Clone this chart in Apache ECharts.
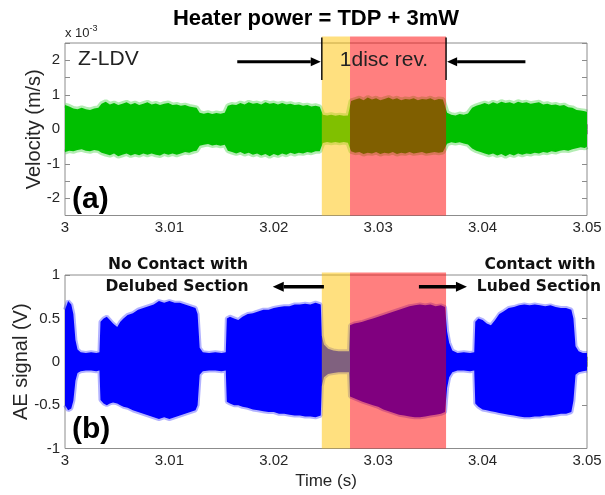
<!DOCTYPE html>
<html><head><meta charset="utf-8">
<script src="https://cdn.jsdelivr.net/npm/echarts@6/dist/echarts.min.js"></script>
<style>html,body{margin:0;padding:0;background:#fff}#c{width:605px;height:495px}</style>
</head><body><div id="c"></div>
<script>
// ---------- DATA ----------
const xTickLabels = ['3', '3.01', '3.02', '3.03', '3.04', '3.05'];
const velTickLabels = ['-2', '-1', '0', '1', '2'];
const aeTickLabels = ['-1', '-0.5', '0', '0.5', '1'];

// Velocity envelope (x 1e-3 m/s)
const velTime = [3.0000,3.0004,3.0008,3.0012,3.0016,3.0020,3.0024,3.0028,3.0032,3.0035,3.0039,3.0043,3.0047,3.0051,3.0055,3.0059,3.0063,3.0067,3.0071,3.0075,3.0079,3.0083,3.0087,3.0091,3.0095,3.0099,3.0103,3.0107,3.0111,3.0115,3.0119,3.0123,3.0126,3.0129,3.0133,3.0137,3.0141,3.0145,3.0149,3.0153,3.0156,3.0160,3.0164,3.0168,3.0172,3.0176,3.0180,3.0184,3.0188,3.0192,3.0196,3.0200,3.0204,3.0208,3.0212,3.0216,3.0220,3.0224,3.0228,3.0232,3.0236,3.0240,3.0244,3.0247,3.0251,3.0255,3.0259,3.0263,3.0267,3.0271,3.0274,3.0278,3.0282,3.0286,3.0290,3.0294,3.0298,3.0302,3.0306,3.0310,3.0314,3.0318,3.0322,3.0326,3.0330,3.0334,3.0338,3.0342,3.0346,3.0350,3.0354,3.0358,3.0362,3.0366,3.0370,3.0374,3.0378,3.0382,3.0386,3.0390,3.0394,3.0398,3.0402,3.0406,3.0410,3.0414,3.0418,3.0422,3.0426,3.0430,3.0434,3.0438,3.0442,3.0446,3.0450,3.0454,3.0458,3.0462,3.0466,3.0470,3.0474,3.0478,3.0482,3.0486,3.0490,3.0494,3.0498,3.0500];
const velUpper = [0.70,0.66,0.60,0.58,0.62,0.58,0.56,0.60,0.62,
  0.74,0.80,0.72,0.76,0.70,0.74,0.78,0.72,0.76,0.70,0.74,0.78,0.72,0.75,0.70,0.74,0.76,0.70,0.72,0.68,0.70,0.66,0.64,0.62,
  0.48,0.45,0.48,0.44,0.47,0.45,0.48,
  0.68,0.72,0.70,0.76,0.72,0.78,0.74,0.76,0.72,0.78,0.74,0.76,0.72,0.76,0.72,0.74,0.70,0.72,0.68,0.70,0.66,0.68,0.65,
  0.42,0.40,0.42,0.39,0.41,0.39,0.40,
  0.82,0.86,0.90,0.84,0.92,0.86,0.90,0.84,0.88,0.92,0.86,0.90,0.84,0.88,0.86,0.90,0.84,0.88,0.86,0.90,0.84,0.88,0.86,
  0.48,0.42,0.40,0.44,0.42,0.46,
  0.62,0.68,0.72,0.76,0.72,0.78,0.74,0.80,0.76,0.78,0.74,0.80,0.76,0.78,0.74,0.76,0.78,0.72,0.74,0.70,0.72,0.68,0.70,0.64,0.62,0.56,0.54,0.52,0.50];
const velLower = [-0.66,-0.62,-0.64,-0.60,-0.58,-0.62,-0.64,-0.60,-0.62,
  -0.68,-0.72,-0.75,-0.70,-0.78,-0.74,-0.70,-0.76,-0.72,-0.75,-0.70,-0.74,-0.70,-0.74,-0.76,-0.70,-0.74,-0.70,-0.74,-0.70,-0.66,-0.68,-0.64,-0.62,
  -0.48,-0.45,-0.43,-0.47,-0.45,-0.48,-0.45,
  -0.62,-0.66,-0.70,-0.66,-0.72,-0.68,-0.74,-0.70,-0.76,-0.72,-0.78,-0.72,-0.76,-0.70,-0.74,-0.68,-0.72,-0.68,-0.70,-0.66,-0.68,-0.64,-0.64,
  -0.40,-0.37,-0.39,-0.37,-0.39,-0.37,-0.39,
  -0.64,-0.68,-0.66,-0.72,-0.68,-0.70,-0.66,-0.72,-0.68,-0.70,-0.66,-0.72,-0.68,-0.70,-0.66,-0.70,-0.68,-0.66,-0.70,-0.68,-0.66,-0.68,-0.66,
  -0.42,-0.38,-0.40,-0.38,-0.41,-0.44,
  -0.56,-0.62,-0.66,-0.70,-0.74,-0.70,-0.76,-0.72,-0.78,-0.72,-0.76,-0.70,-0.74,-0.70,-0.72,-0.68,-0.70,-0.66,-0.68,-0.64,-0.66,-0.62,-0.60,-0.62,-0.58,-0.55,-0.52,-0.54,-0.50];

// AE signal envelope (V)
const aeTime = [3.0000,3.0003,3.0006,3.0008,3.0010,3.0012,3.0015,3.0020,3.0025,3.0030,3.0033,3.0034,3.0037,3.0040,3.0043,3.0046,3.0050,3.0053,3.0056,3.0060,3.0065,3.0070,3.0075,3.0080,3.0085,3.0090,3.0095,3.0100,3.0105,3.0110,3.0115,3.0120,3.0125,3.0127,3.0129,3.0132,3.0138,3.0144,3.0150,3.0154,3.0155,3.0158,3.0162,3.0166,3.0170,3.0175,3.0180,3.0185,3.0190,3.0195,3.0200,3.0205,3.0210,3.0215,3.0220,3.0225,3.0230,3.0235,3.0240,3.0245,3.0246,3.0248,3.0252,3.0257,3.0262,3.0267,3.0272,3.0273,3.0277,3.0281,3.0285,3.0290,3.0295,3.0300,3.0305,3.0310,3.0315,3.0320,3.0325,3.0330,3.0335,3.0340,3.0345,3.0350,3.0355,3.0360,3.0364,3.0366,3.0368,3.0371,3.0376,3.0382,3.0388,3.0392,3.0393,3.0396,3.0400,3.0404,3.0408,3.0412,3.0416,3.0420,3.0425,3.0430,3.0435,3.0440,3.0445,3.0450,3.0455,3.0460,3.0465,3.0470,3.0475,3.0480,3.0485,3.0487,3.0489,3.0492,3.0496,3.0500];
const aeUpper = [0.60,0.70,0.66,0.55,0.25,0.14,0.11,0.10,0.11,0.10,0.11,0.46,0.50,0.52,0.48,0.44,0.40,0.46,0.50,0.54,0.56,0.60,0.62,0.64,0.66,0.70,0.68,0.70,0.68,0.68,0.66,0.64,0.62,0.55,0.16,0.11,0.10,0.11,0.10,0.11,0.50,0.52,0.50,0.48,0.52,0.55,0.56,0.58,0.60,0.60,0.62,0.63,0.64,0.64,0.66,0.66,0.67,0.66,0.68,0.66,0.30,0.20,0.15,0.13,0.12,0.12,0.12,0.42,0.44,0.45,0.46,0.48,0.50,0.52,0.54,0.56,0.58,0.60,0.62,0.64,0.65,0.66,0.65,0.66,0.64,0.65,0.63,0.35,0.22,0.13,0.10,0.11,0.10,0.11,0.46,0.50,0.48,0.44,0.42,0.48,0.55,0.58,0.62,0.63,0.65,0.66,0.65,0.66,0.65,0.64,0.65,0.63,0.62,0.62,0.60,0.50,0.18,0.12,0.10,0.10];
const aeLower = [-0.50,-0.56,-0.54,-0.45,-0.22,-0.13,-0.11,-0.10,-0.10,-0.11,-0.10,-0.44,-0.48,-0.50,-0.48,-0.47,-0.48,-0.50,-0.52,-0.53,-0.56,-0.58,-0.60,-0.62,-0.64,-0.66,-0.64,-0.66,-0.64,-0.62,-0.60,-0.58,-0.56,-0.50,-0.15,-0.11,-0.10,-0.10,-0.11,-0.10,-0.46,-0.48,-0.50,-0.50,-0.52,-0.53,-0.55,-0.56,-0.57,-0.58,-0.58,-0.60,-0.60,-0.61,-0.62,-0.62,-0.63,-0.63,-0.64,-0.62,-0.28,-0.18,-0.14,-0.13,-0.12,-0.12,-0.12,-0.40,-0.42,-0.44,-0.46,-0.48,-0.50,-0.52,-0.55,-0.57,-0.59,-0.61,-0.62,-0.63,-0.64,-0.64,-0.63,-0.62,-0.61,-0.60,-0.58,-0.30,-0.18,-0.12,-0.10,-0.10,-0.11,-0.10,-0.48,-0.52,-0.55,-0.56,-0.57,-0.58,-0.59,-0.60,-0.61,-0.62,-0.63,-0.64,-0.64,-0.63,-0.63,-0.62,-0.62,-0.61,-0.60,-0.60,-0.58,-0.45,-0.15,-0.12,-0.11,-0.10];

// Shaded spans (s)
const shadeStart = [3.0246, 3.0273];
const shadeEnd = [3.0273, 3.0365];
const shadeColors = ['rgba(255,193,0,0.5)', 'rgba(255,0,0,0.5)'];

// Annotation anchors
const bracketTimes = [3.0246, 3.0365];
const topArrows = [[3.0165, 3.0245], [3.0441, 3.0366]]; // [from, to] at velocity 1.96
const topArrowY = 1.96;
const bottomArrows = [[3.0248, 3.0199], [3.0339, 3.0385]];
const bottomArrowY = 0.865;

// ---------- CHART ----------
const FONT = "'Liberation Sans', Arial, sans-serif";
const chart = echarts.init(document.getElementById('c'), null, {renderer: 'canvas'});

function envSeries(xi, yi, time, up, lo, color) {
  return {type: 'custom', xAxisIndex: xi, yAxisIndex: yi, z: 2,
    data: time.map((t, i) => [t, up[i], lo[i]]), encode: {x: 0, y: [1, 2]},
    renderItem: function (params, api) {
      if (params.dataIndex !== 0) return null;
      const top = time.map((t, i) => api.coord([t, up[i]]));
      const bot = time.map((t, i) => api.coord([t, lo[i]])).reverse();
      return {type: 'polygon', shape: {points: top.concat(bot)}, style: {fill: color}};
    }};
}
function edgeLine(xi, yi, time, vals, color, width) {
  return {type: 'line', xAxisIndex: xi, yAxisIndex: yi, z: 3, showSymbol: false, silent: true,
    data: time.map((t, i) => [t, vals[i]]), lineStyle: {color: color, width: width}};
}
function shadeRender(extraTop) {
  return function (params, api) {
    const x0 = api.coord([api.value(0), 0])[0];
    const x1 = api.coord([api.value(1), 0])[0];
    const cs = params.coordSys;
    return {type: 'rect', shape: {x: x0, y: cs.y - extraTop, width: x1 - x0, height: cs.height + extraTop},
      style: {fill: shadeColors[params.dataIndex]}};
  };
}
const shadeData = shadeStart.map((s, i) => [s, shadeEnd[i]]);

const gray = '#8c8c8c';
function xAx(grid, pos, labels) {
  return {type: 'value', gridIndex: grid, position: pos, min: 3, max: 3.05, interval: 0.01,
    axisLine: {show: false}, splitLine: {show: false},
    axisTick: {show: true, inside: true, length: 5, lineStyle: {color: gray}},
    axisLabel: {show: labels, color: '#262626', fontSize: 15, fontFamily: FONT, margin: 5,
      formatter: v => { const i = Math.round((v - 3) / 0.01); return xTickLabels[i] ?? ''; }}};
}
function yAx(grid, pos, min, max, interval, labelsArr, labels, name, nameGap) {
  return {type: 'value', gridIndex: grid, position: pos, min: min, max: max, interval: interval,
    axisLine: {show: false}, splitLine: {show: false},
    axisTick: {show: true, inside: true, length: 5, lineStyle: {color: gray}},
    name: name, nameLocation: 'middle', nameGap: nameGap, nameMoveOverlap: false,
    nameTextStyle: {fontSize: 20, color: '#262626', fontFamily: FONT},
    axisLabel: {show: labels, color: '#262626', fontSize: 15, fontFamily: FONT, margin: 5,
      formatter: v => { const s = String(+v.toFixed(2)); return labelsArr.includes(s) ? s : ''; }}};
}

const option = {
  animation: false,
  backgroundColor: '#fff',
  grid: [
    {left: 65, top: 43, width: 522, height: 172.5, show: true, borderColor: gray, borderWidth: 1, backgroundColor: 'transparent'},
    {left: 65, top: 275, width: 522, height: 173.5, show: true, borderColor: gray, borderWidth: 1, backgroundColor: 'transparent'}
  ],
  xAxis: [
    xAx(0, 'bottom', true), xAx(0, 'top', false),
    Object.assign(xAx(1, 'bottom', true), {name: 'Time (s)', nameLocation: 'middle', nameGap: 24, nameMoveOverlap: false,
      nameTextStyle: {fontSize: 17, color: '#262626', fontFamily: FONT}}),
    xAx(1, 'top', false)
  ],
  yAxis: [
    yAx(0, 'left', -2.5, 2.5, 0.5, velTickLabels, true, 'Velocity (m/s)', 21),
    yAx(0, 'right', -2.5, 2.5, 0.5, velTickLabels, false, '', 0),
    yAx(1, 'left', -1, 1, 0.5, aeTickLabels, true, 'AE signal (V)', 34),
    yAx(1, 'right', -1, 1, 0.5, aeTickLabels, false, '', 0)
  ],
  series: [
    envSeries(0, 0, velTime, velUpper, velLower, '#00bf00'),
    edgeLine(0, 0, velTime, velUpper, 'rgba(0,191,0,0.3)', 5),
    edgeLine(0, 0, velTime, velLower, 'rgba(0,191,0,0.3)', 5),
    envSeries(2, 2, aeTime, aeUpper, aeLower, '#0000ff'),
    edgeLine(2, 2, aeTime, aeUpper, 'rgba(0,0,255,0.3)', 4),
    edgeLine(2, 2, aeTime, aeLower, 'rgba(0,0,255,0.3)', 4),
    {type: 'custom', name: 'shadeTop', xAxisIndex: 0, yAxisIndex: 0, z: 5, clip: false,
      data: shadeData, encode: {x: [0, 1]}, renderItem: shadeRender(6.5)},
    {type: 'custom', name: 'shadeBottom', xAxisIndex: 2, yAxisIndex: 2, z: 5, clip: false,
      data: shadeData, encode: {x: [0, 1]}, renderItem: shadeRender(2.5)}
  ]
};
chart.setOption(option);

// ---------- ANNOTATIONS ----------
function arrow(p0, p1, w, headLen, headHalf) {
  const dx = p1[0] - p0[0], dy = p1[1] - p0[1];
  const L = Math.hypot(dx, dy), ux = dx / L, uy = dy / L;
  const bx = p1[0] - ux * headLen, by = p1[1] - uy * headLen;
  return [
    {type: 'line', z: 100, shape: {x1: p0[0], y1: p0[1], x2: bx, y2: by}, style: {stroke: '#000', lineWidth: w}},
    {type: 'polygon', z: 100, shape: {points: [[p1[0], p1[1]], [bx - uy * headHalf, by + ux * headHalf], [bx + uy * headHalf, by - ux * headHalf]]}, style: {fill: '#000'}}
  ];
}
const g = [];
const topPix = (t, v) => chart.convertToPixel({xAxisIndex: 0, yAxisIndex: 0}, [t, v]);
const botPix = (t, v) => chart.convertToPixel({xAxisIndex: 2, yAxisIndex: 2}, [t, v]);

bracketTimes.forEach(t => {
  const a = topPix(t, 2.66), b = topPix(t, 1.43);
  g.push({type: 'line', z: 100, shape: {x1: a[0], y1: a[1], x2: b[0], y2: b[1]}, style: {stroke: '#000', lineWidth: 1.4}});
});
topArrows.forEach(([f, to]) => g.push(...arrow(topPix(f, topArrowY), topPix(to, topArrowY), 3, 10, 4.5)));
bottomArrows.forEach(([f, to]) => g.push(...arrow(botPix(f, bottomArrowY), botPix(to, bottomArrowY), 3.5, 11, 5)));

const txt = (text, x, y, font, align, color) => ({type: 'text', z: 101, x: x, y: y,
  style: {text: text, font: font, fill: color || '#000', align: align || 'center', verticalAlign: 'middle'}});
g.push(txt('Heater power = TDP + 3mW', 316, 19, "bold 22px " + FONT, 'center', '#000'));
g.push({type: 'text', z: 101, x: 65, y: 33, style: {
  rich: {a: {fontSize: 13, fontFamily: FONT, fill: '#262626'}, s: {fontSize: 9, fontFamily: FONT, fill: '#262626', verticalAlign: 'top', padding: [0, 0, 8, 0]}},
  text: '{a|x 10}{s|-3}', verticalAlign: 'middle', align: 'left'}});
g.push(txt('Z-LDV', 78, 59, "21px " + FONT, 'left', '#222'));
g.push(txt('1disc rev.', 384, 60, "21px " + FONT, 'center', '#222'));
g.push(txt('(a)', 72, 200, "bold 30px " + FONT, 'left', '#000'));
g.push(txt('(b)', 72, 430, "bold 30px " + FONT, 'left', '#000'));
const BF = "bold 15.5px 'DejaVu Sans', Verdana, sans-serif";
g.push(txt('No Contact with', 178, 265, BF, 'center', '#111'));
g.push(txt('Delubed Section', 177, 287, BF, 'center', '#111'));
g.push(txt('Contact with', 540, 265, BF, 'center', '#111'));
g.push(txt('Lubed Section', 539, 287, BF, 'center', '#111'));

chart.setOption({graphic: g});
</script>
</body></html>
